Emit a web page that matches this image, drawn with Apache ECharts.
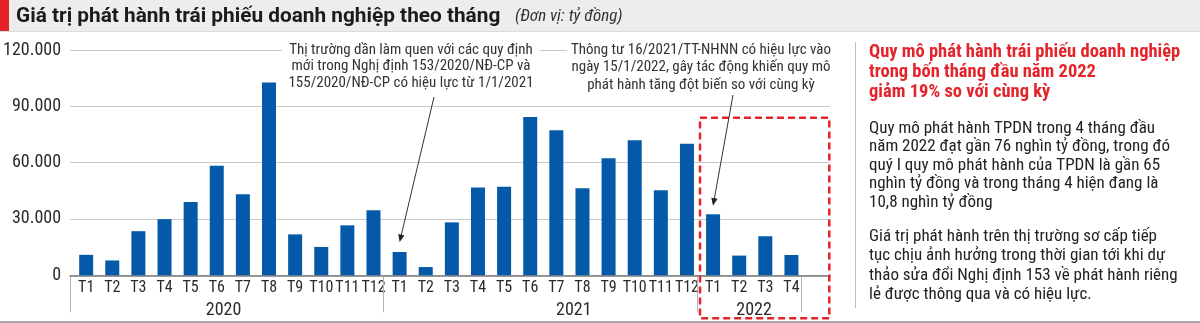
<!DOCTYPE html>
<html>
<head>
<meta charset="utf-8">
<title>Giá trị phát hành trái phiếu doanh nghiệp theo tháng</title>
<script src="https://cdn.jsdelivr.net/npm/echarts@6.0.0/dist/echarts.min.js"></script>
<style>
  html, body { margin: 0; padding: 0; background: #fff; }
  #chart { width: 1200px; height: 323px; }
</style>
</head>
<body>
<div id="chart"></div>
<script>
// ---- Data (tỷ đồng) ----
const years = ['2020', '2021', '2022'];
const months = [
  'T1', 'T2', 'T3', 'T4', 'T5', 'T6', 'T7', 'T8', 'T9', 'T10', 'T11', 'T12',
  'T1', 'T2', 'T3', 'T4', 'T5', 'T6', 'T7', 'T8', 'T9', 'T10', 'T11', 'T12',
  'T1', 'T2', 'T3', 'T4'
];
const issuance2020 = [10900, 7900, 23500, 29900, 39000, 58400, 43200, 102700, 21800, 15100, 26600, 34600];
const issuance2021 = [12400, 4400, 28200, 46700, 47200, 84300, 77200, 46300, 62300, 71900, 45300, 70100];
const issuance2022 = [32500, 10500, 20800, 10800];
const yTicks = [0, 30000, 60000, 90000, 120000];

const titleText = 'Giá trị phát hành trái phiếu doanh nghiệp theo tháng';
const unitText = '(Đơn vị: tỷ đồng)';
const note2021 = [
  'Thị trường dần làm quen với các quy định',
  'mới trong Nghị định 153/2020/NĐ-CP và',
  '155/2020/NĐ-CP có hiệu lực từ 1/1/2021'
];
const note2022 = [
  'Thông tư 16/2021/TT-NHNN có hiệu lực vào',
  'ngày 15/1/2022, gây tác động khiến quy mô',
  'phát hành tăng đột biến so với cùng kỳ'
];
const sideHeading = [
  'Quy mô phát hành trái phiếu doanh nghiệp',
  'trong bốn tháng đầu năm 2022',
  'giảm 19% so với cùng kỳ'
];
const sideParagraph1 = [
  'Quy mô phát hành TPDN trong 4 tháng đầu',
  'năm 2022 đạt gần 76 nghìn tỷ đồng, trong đó',
  'quý I quy mô phát hành của TPDN là gần 65',
  'nghìn tỷ đồng và trong tháng 4 hiện đang là',
  '10,8 nghìn tỷ đồng'
];
const sideParagraph2 = [
  'Giá trị phát hành trên thị trường sơ cấp tiếp',
  'tục chịu ảnh hưởng trong thời gian tới khi dự',
  'thảo sửa đổi Nghị định 153 về phát hành riêng',
  'lẻ được thông qua và có hiệu lực.'
];

// ---- Derived series ----
const issuance = [...issuance2020, ...issuance2021, ...issuance2022];
const monthsPerYear = [issuance2020.length, issuance2021.length, issuance2022.length];

// ---- Styling / layout ----
const NARROW = '"Liberation Sans Narrow", "Roboto Condensed", "Arial Narrow", Roboto, sans-serif';
const HEAD = 'Roboto, "Liberation Sans", sans-serif';
const BAR_BLUE = '#045aa9';
const RED = '#e4232b';
const TEXT = '#2b2b2b';
const PLOT_TOP = 50;
const PLOT_BOTTOM = 47.7;

const fmt = v => String(v).replace(/\B(?=(\d{3})+(?!\d))/g, '.');

const chart = echarts.init(document.getElementById('chart'), null, { renderer: 'canvas' });

chart.setOption({
  animation: false,
  backgroundColor: '#fff',
  grid: [
    // wide grid: gridlines, y labels and baseline
    { left: 65, right: 370, top: PLOT_TOP, bottom: PLOT_BOTTOM },
    // bar grid: one band per month
    { left: 73.1, right: 395.5, top: PLOT_TOP, bottom: PLOT_BOTTOM }
  ],
  xAxis: [
    {
      gridIndex: 0, type: 'value', min: 0, max: 1,
      axisLine: { show: true, lineStyle: { color: '#7a7a7a', width: 1.6 } },
      axisTick: { show: false }, axisLabel: { show: false }, splitLine: { show: false }
    },
    {
      gridIndex: 1, type: 'category', data: months,
      axisLine: { show: false }, axisTick: { show: false },
      axisLabel: { interval: 0, margin: 5, fontFamily: NARROW, fontSize: 16, color: TEXT }
    }
  ],
  yAxis: [
    {
      gridIndex: 0, type: 'value', min: yTicks[0], max: yTicks[yTicks.length - 1],
      interval: yTicks[1] - yTicks[0],
      axisLine: { show: false }, axisTick: { show: false },
      axisLabel: { margin: 9, fontFamily: NARROW, fontSize: 18, color: TEXT, formatter: fmt },
      splitLine: { lineStyle: { color: '#cacaca', width: 1 } }
    },
    {
      gridIndex: 1, type: 'value', min: yTicks[0], max: yTicks[yTicks.length - 1],
      show: false
    }
  ],
  series: [{
    type: 'bar',
    xAxisIndex: 1, yAxisIndex: 1,
    data: issuance,
    barWidth: 14,
    itemStyle: { color: BAR_BLUE },
    z: 3
  }]
});

function textBlock(lines, x, y, opts, z) {
  return {
    type: 'text', z: z == null ? 100 : z,
    style: Object.assign({
      x: x, y: y,
      text: lines.join('\n'),
      fill: TEXT,
      font: '16px ' + NARROW,
      verticalAlign: 'top'
    }, opts || {})
  };
}

function arrow(sx, sy, tx, ty) {
  const dx = tx - sx, dy = ty - sy;
  const len = Math.hypot(dx, dy);
  const ux = dx / len, uy = dy / len;
  const nx = -uy, ny = ux;
  const headLen = 7.5, headHalf = 3.2;
  const bx = tx - ux * headLen, by = ty - uy * headLen;
  return [
    { type: 'line', z: 101, shape: { x1: sx, y1: sy, x2: bx + ux * 1.5, y2: by + uy * 1.5 },
      style: { stroke: '#333', lineWidth: 1 } },
    { type: 'polygon', z: 101,
      shape: { points: [[tx, ty], [bx + nx * headHalf, by + ny * headHalf], [bx - nx * headHalf, by - ny * headHalf]] },
      style: { fill: '#222' } }
  ];
}

function drawOverlay() {
  const xAt = i => chart.convertToPixel({ xAxisIndex: 1 }, i);
  const yAt = v => chart.convertToPixel({ yAxisIndex: 1 }, v);
  const band = xAt(1) - xAt(0);
  const baseY = yAt(0);
  const edge = i => xAt(0) + (i - 0.5) * band;       // left boundary of band i
  const sepShift = -3.5;

  const g = [];

  // header strip
  g.push({ type: 'rect', z: 90, shape: { x: 0, y: 0, width: 1200, height: 31 }, style: { fill: '#eeeded' } });
  g.push({ type: 'rect', z: 91, shape: { x: 0, y: 0, width: 9, height: 31 }, style: { fill: '#e8202a' } });
  g.push({ type: 'line', z: 91, shape: { x1: 0, y1: 31.5, x2: 1200, y2: 31.5 }, style: { stroke: '#dcdcdc', lineWidth: 1 } });
  g.push({ type: 'text', z: 92, style: { x: 16, y: 16.5, text: titleText, fill: '#1b1b1b',
    font: 'bold 20.8px ' + HEAD, verticalAlign: 'middle' } });
  g.push({ type: 'text', z: 92, style: { x: 515, y: 17, text: unitText, fill: '#333',
    font: 'italic 17px ' + NARROW, verticalAlign: 'middle' } });

  // bottom rule
  g.push({ type: 'line', z: 91, shape: { x1: 0, y1: 322, x2: 1200, y2: 322 }, style: { stroke: '#8a8a8a', lineWidth: 1.5 } });

  // year separators below the axis
  let start = 0;
  const bounds = [0];
  monthsPerYear.forEach(n => { start += n; bounds.push(start); });
  bounds.forEach(b => {
    const x = Math.round(edge(b) + sepShift) + 0.5;
    g.push({ type: 'line', z: 95, shape: { x1: x, y1: baseY + 1.5, x2: x, y2: baseY + 37 },
      style: { stroke: '#b5b5b5', lineWidth: 1 } });
  });

  // year labels (offset from the centre of each year's first month, in bands)
  const yearAt = [5.26, 18.67, 25.57];
  years.forEach((y, k) => {
    g.push({ type: 'text', z: 95, style: { x: xAt(0) + yearAt[k] * band, y: baseY + 35, text: y,
      fill: TEXT, font: '18px ' + NARROW, align: 'center', verticalAlign: 'middle' } });
  });

  // dashed frame around 2022
  const boxL = edge(24);
  g.push({ type: 'rect', z: 96,
    shape: { x: boxL, y: 117.7, width: 829.3 - boxL, height: 200.6 },
    style: { fill: 'none', stroke: RED, lineWidth: 2.5, lineDash: [7, 4] } });

  // annotations (white backing hides the top gridline, kept beneath the bars)
  g.push(textBlock(note2021, 411, 41.5, { align: 'center', lineHeight: 16.8, font: '15px ' + NARROW,
    backgroundColor: '#fff', padding: [0, 6, 0, 6], fill: '#333' }, 1));
  g.push(textBlock(note2022, 701, 41.5, { align: 'center', lineHeight: 17.4, font: '15px ' + NARROW,
    backgroundColor: '#fff', padding: [0, 4, 0, 4], fill: '#333' }, 1));
  arrow(434, 97, xAt(12), yAt(issuance[12]) - 10).forEach(e => g.push(e));
  arrow(733, 95, xAt(24), yAt(issuance[24]) - 8.6).forEach(e => g.push(e));

  // side panel
  g.push({ type: 'line', z: 91, shape: { x1: 855.5, y1: 42, x2: 855.5, y2: 308 }, style: { stroke: '#bdbdbd', lineWidth: 1 } });
  g.push(textBlock(sideHeading, 869, 42.7, { font: 'bold 18.5px ' + NARROW, fill: RED, lineHeight: 20 }));
  g.push(textBlock(sideParagraph1, 869, 119, { font: '17px ' + NARROW, fill: '#222', lineHeight: 18.6 }));
  g.push(textBlock(sideParagraph2, 869, 227, { font: '17px ' + NARROW, fill: '#222', lineHeight: 19.3 }));

  chart.setOption({ graphic: g });
}

drawOverlay();
</script>
</body>
</html>
